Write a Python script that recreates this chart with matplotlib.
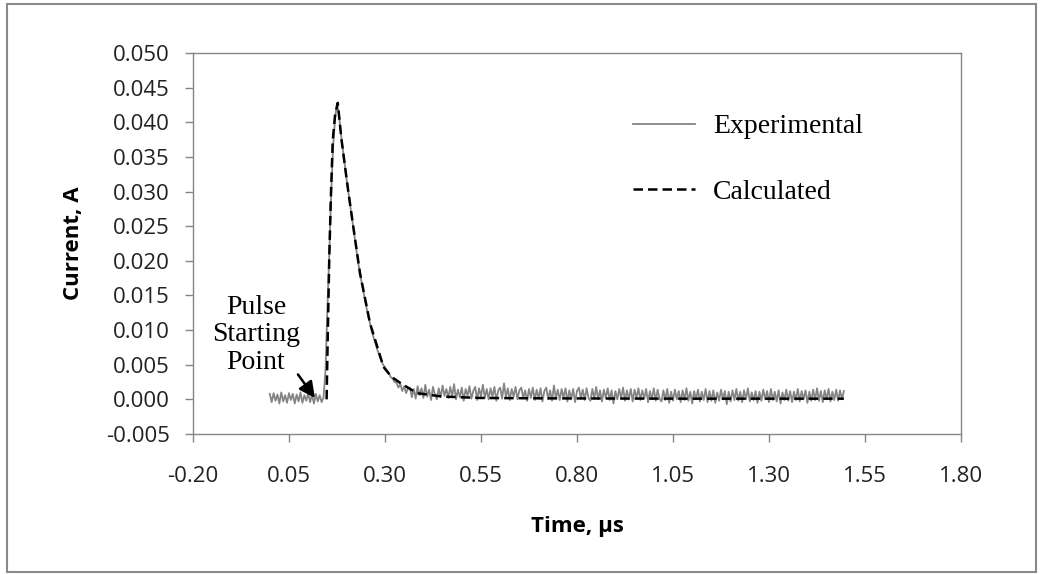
import numpy as np
import matplotlib.pyplot as plt
from matplotlib.patches import Rectangle

# oscilloscope record, sampled every 5 ns starting at t = 0
t_start = 0.0
t_step = 0.005

# flat part before the pulse
exp_pre = [0.0008, -0.0004, 0.0009, -0.0002, 0.0007, -0.0006, 0.0010, -0.0003, 0.0006, -0.0005,
           0.0009, -0.0001, 0.0008, -0.0006, 0.0007, -0.0003, 0.0010, -0.0005, 0.0006, -0.0002,
           0.0009, -0.0004, 0.0007, -0.0006, 0.0008, -0.0003, 0.0006, -0.0004]

# rise, peak and decay (0.140 .. 0.360 us)
exp_pulse = [0.0003, 0.0040, 0.0130, 0.0210, 0.0300, 0.0365, 0.0405, 0.0427, 0.0412, 0.0385,
             0.0362, 0.0340, 0.0318, 0.0298, 0.0278, 0.0258, 0.0238, 0.0218, 0.0198, 0.0182,
             0.0166, 0.0152, 0.0138, 0.0124, 0.0112, 0.0100, 0.0090, 0.0081, 0.0072, 0.0064,
             0.0057, 0.0050, 0.0046, 0.0041, 0.0038, 0.0032, 0.0030, 0.0025, 0.0024, 0.0017,
             0.0022, 0.0012, 0.0019, 0.0009, 0.0016]

# noisy tail (0.365 .. 1.495 us)
exp_tail = [0.0017, 0.0003, 0.0015, 0.0001, 0.0019, 0.0006, 0.0016, 0.0002, 0.0021, 0.0004,
            0.0014, -0.0001, 0.0018, 0.0007, 0.0000, 0.0016, 0.0003, 0.0020, 0.0005, 0.0015,
            0.0002, 0.0018, 0.0004, 0.0022, 0.0000, 0.0014, 0.0003, 0.0017, -0.0002, 0.0015,
            0.0005, 0.0019, 0.0001, 0.0012, 0.0018, -0.0001, 0.0016, 0.0004, 0.0021, 0.0002,
            0.0015, 0.0000, 0.0016, 0.0004, 0.0018, -0.0002, 0.0013, 0.0017, 0.0001, 0.0023,
            0.0003, 0.0016, -0.0001, 0.0015, 0.0004, 0.0018, 0.0000, 0.0013, 0.0017, 0.0002,
            0.0013, -0.0002, 0.0015, 0.0002, 0.0017, -0.0001, 0.0014, 0.0001, 0.0016, -0.0003,
            0.0012, 0.0017, 0.0000, 0.0013, -0.0002, 0.0020, 0.0001, 0.0014, -0.0001, 0.0015,
            0.0002, 0.0016, -0.0003, 0.0013, 0.0000, 0.0015, -0.0004, 0.0012, 0.0017, 0.0001,
            0.0014, -0.0001, 0.0016, 0.0002, -0.0002, 0.0015, 0.0001, 0.0018, 0.0000, 0.0013,
            -0.0003, 0.0014, 0.0002, 0.0016, -0.0001, 0.0013, -0.0006, 0.0012, 0.0000, 0.0015,
            0.0001, 0.0017, -0.0002, 0.0013, 0.0000, 0.0015, -0.0003, 0.0014, 0.0002, 0.0016,
            -0.0001, 0.0013, 0.0001, 0.0015, -0.0004, 0.0012, 0.0000, 0.0016, -0.0002, 0.0014,
            0.0001, -0.0003, 0.0013, -0.0001, 0.0015, -0.0005, 0.0011, -0.0002, 0.0014, 0.0000,
            0.0012, -0.0004, 0.0013, -0.0001, 0.0016, -0.0002, 0.0011, -0.0006, 0.0012, 0.0000,
            0.0014, -0.0003, 0.0011, -0.0001, 0.0015, -0.0004, 0.0012, -0.0002, 0.0013, -0.0005,
            0.0010, -0.0002, 0.0014, 0.0000, 0.0012, -0.0007, 0.0011, -0.0003, 0.0013, -0.0001,
            0.0015, -0.0002, 0.0011, -0.0004, 0.0013, 0.0000, 0.0016, -0.0003, 0.0010, -0.0001,
            0.0012, -0.0005, 0.0011, -0.0002, 0.0014, 0.0000, 0.0012, -0.0004, 0.0015, -0.0001,
            0.0011, -0.0003, 0.0013, -0.0006, 0.0010, -0.0001, 0.0014, -0.0002, 0.0012, -0.0004,
            0.0011, -0.0001, 0.0015, -0.0003, 0.0012, 0.0000, 0.0013, -0.0005, 0.0011, -0.0002,
            0.0014, -0.0001, 0.0016, -0.0002, 0.0012, -0.0004, 0.0013, 0.0000, 0.0015, -0.0003,
            0.0011, -0.0001, 0.0014, -0.0002, 0.0013, 0.0000, 0.0012]

# model curve
calc_time = [0.148, 0.151, 0.155, 0.159, 0.164, 0.170, 0.177, 0.187, 0.204, 0.216,
             0.235, 0.261, 0.296, 0.316, 0.339, 0.383, 0.450, 0.550, 0.700, 0.900,
             1.100, 1.300, 1.495]
calc_current = [0.0, 0.0090, 0.0206, 0.0290, 0.0374, 0.0410, 0.0428, 0.0374, 0.0302, 0.0255,
                0.0182, 0.0110, 0.0047, 0.0033, 0.0024, 0.0009, 0.0004, 0.0002, 0.00015, 0.00012,
                0.0001, 0.0001, 0.0001]

x_ticks = [-0.20, 0.05, 0.30, 0.55, 0.80, 1.05, 1.30, 1.55, 1.80]
y_ticks = [-0.005, 0.000, 0.005, 0.010, 0.015, 0.020, 0.025, 0.030, 0.035, 0.040, 0.045, 0.050]

exp_current = np.array(exp_pre + exp_pulse + exp_tail)
exp_time = t_start + t_step * np.arange(len(exp_current))

axis_grey = '#868686'
tick_font = 'Open Sans'
serif = 'Liberation Serif'

fig = plt.figure(figsize=(10.43, 5.74), dpi=100)
ax = fig.add_axes([0.1850, 0.2439, 0.7364, 0.6638])

ax.plot(exp_time, exp_current, color='#858585', lw=1.3, label='Experimental')
ax.plot(calc_time, calc_current, color='black', lw=1.8, linestyle=(0, (3.8, 2.0)),
        label='Calculated')

ax.set_xlim(-0.20, 1.80)
ax.set_ylim(-0.005, 0.050)
ax.set_xticks(x_ticks)
ax.set_yticks(y_ticks)
ax.set_xticklabels([f'{v:.2f}' for v in x_ticks])
ax.set_yticklabels([f'{v:.3f}' for v in y_ticks])
ax.tick_params(direction='out', length=5.8, width=1, color=axis_grey, labelsize=16,
               labelcolor='#222222')
ax.tick_params(axis='y', pad=11)
ax.tick_params(axis='x', pad=17)
for lab in ax.get_xticklabels() + ax.get_yticklabels():
    lab.set_fontfamily(tick_font)
for sp in ax.spines.values():
    sp.set_color(axis_grey)
    sp.set_linewidth(1)

ax.set_xlabel('Time, μs', fontfamily=tick_font, fontweight='bold', fontsize=16, labelpad=21)
ax.set_ylabel('Current, A', fontfamily=tick_font, fontweight='bold', fontsize=16, labelpad=16)

# arrow to where the pulse begins
ax.annotate('', xy=(0.1177, 0.0002), xytext=(0.0734, 0.0036),
            arrowprops=dict(arrowstyle='-|>', color='black', lw=1.8, mutation_scale=24,
                            shrinkA=0, shrinkB=0))
ax.text(-0.036, 0.0093, 'Pulse\nStarting\nPoint', ha='center', va='center',
        fontfamily=serif, fontsize=20, linespacing=1.15)

ax.legend(loc='upper left', bbox_to_anchor=(633 / 1043, 1 - 114 / 574),
          bbox_transform=fig.transFigure, frameon=False, borderpad=0, borderaxespad=0,
          handlelength=2.23, handletextpad=0.65, labelspacing=1.45,
          prop={'family': serif, 'size': 20})

# chart border
fig.patches.append(Rectangle((7 / 1043, 2 / 574), 1029 / 1043, 568 / 574,
                             transform=fig.transFigure, fill=False,
                             edgecolor='#8a8a8a', lw=1.5))

fig.savefig('out.png', dpi=100)
